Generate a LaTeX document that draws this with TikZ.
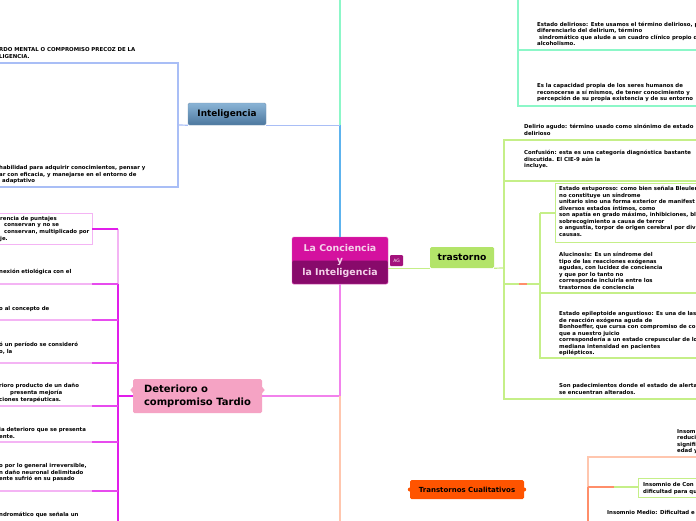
\documentclass[tikz,border=0pt]{standalone}
\usepackage{fontspec}
\setmainfont{DejaVu Sans}
\usetikzlibrary{positioning,calc}

\definecolor{cTopo}{HTML}{D4119F}
\definecolor{cBaixo}{HTML}{880A6B}
\definecolor{cLetra}{HTML}{F4D2EA}
\definecolor{cAG}{HTML}{A3127C}
\definecolor{azulTopo}{HTML}{8AB4D6}
\definecolor{azulBaixo}{HTML}{4C779E}
\definecolor{rosaNo}{HTML}{F5A3C4}
\definecolor{verdeNo}{HTML}{B3E46A}
\definecolor{laranjaNo}{HTML}{FF5400}
\definecolor{lAzulClaro}{HTML}{A9BEF6}
\definecolor{lAzul}{HTML}{5DB3EE}
\definecolor{lMenta}{HTML}{8CF7C8}
\definecolor{lRosa}{HTML}{F282EC}
\definecolor{lMag}{HTML}{E11EEA}
\definecolor{lRosaClaro}{HTML}{F4B4F4}
\definecolor{lVerde}{HTML}{C5EF88}
\definecolor{lPessego}{HTML}{FFC6AE}
\definecolor{lLaranja}{HTML}{FF8E6A}

\begin{document}
\begin{tikzpicture}[
x=1pt, y=-1pt,
texto/.style={font=\fontsize{5.4}{6.5}\selectfont\bfseries, align=left, anchor=north west, inner sep=0pt},
centro/.style={rectangle, rounded corners=1.5pt, fill=cTopo, draw=cTopo!70!white, text=cLetra,
  minimum width=96pt, minimum height=47pt, align=center, inner sep=0pt,
  font=\fontsize{9.4}{12}\selectfont\bfseries,
  path picture={\fill[cBaixo] (path picture bounding box.west) rectangle (path picture bounding box.south east);}},
selo/.style={rectangle, rounded corners=1pt, fill=cAG, text=white, minimum width=13pt, minimum height=11pt,
  inner sep=0pt, font=\fontsize{4.5}{5}\selectfont},
ramo/.style={rectangle, rounded corners=1.5pt, inner sep=0pt, font=\bfseries},
linha/.style={line width=1.2pt},
caixa/.style={draw, line width=1pt}
]
\useasboundingbox (0,0) rectangle (696,520);
\fill[white] (0,0) rectangle (696,520);
\clip (0,0) rectangle (696,520);

% nos principais
\node[centro] (centro) at (340,260.5) {La Conciencia\\y\\la Inteligencia};
\node[selo] (ag) at (396.5,260.5) {AG};
\node[ramo, top color=azulTopo, bottom color=azulBaixo, draw=azulBaixo!80!white, minimum width=78pt, minimum height=22pt,
  font=\fontsize{8.9}{10}\selectfont\bfseries] (intel) at (227,114) {Inteligencia};
\node[ramo, fill=rosaNo, minimum width=129pt, minimum height=34pt, align=left,
  font=\fontsize{10}{12.5}\selectfont\bfseries] (det) at (197.5,396) {Deterioro o\\compromiso Tardio};
\node[ramo, fill=verdeNo, minimum width=64pt, minimum height=21pt,
  font=\fontsize{9.2}{10}\selectfont\bfseries] (trast) at (462,257.5) {trastorno};
\node[ramo, fill=laranjaNo, minimum width=114pt, minimum height=19pt,
  font=\fontsize{7}{8}\selectfont\bfseries] (cualit) at (467,489.5) {Transtornos Cualitativos};
\fill[rosaNo] ([yshift=3pt]det.west) -- ++(-2.5,-3) -- ++(2.5,-3) -- cycle;
\fill[rosaNo] ([yshift=3pt]det.east) -- ++(2.5,-3) -- ++(-2.5,-3) -- cycle;
\fill[laranjaNo] (cualit.west) circle (2pt);
\fill[laranjaNo] (cualit.east) circle (2pt);

\coordinate (topo) at (340,-5);
\coordinate (base) at (340,525);
\coordinate (iJ) at (178,125);
\coordinate (dJ) at (118,396);
\coordinate (tJ) at (504,268);
\coordinate (eJ) at (540,284);
\coordinate (mJ) at (518,-5);
\coordinate (oJ) at (588,487);

% rama Inteligencia
\draw[linha, lAzul] (centro.north) -- (centro.north |- intel.south);
\draw[linha, lAzulClaro] (centro.north |- intel.south) -- (intel.south east);
\draw[linha, lMenta] (centro.north |- intel.south) -- (topo);
\draw[linha, lAzulClaro] (intel.south west) -- (iJ);
\draw[linha, lAzulClaro] (-5,63) -| (178,187) -- (-5,187);
\node[texto] (i1) at (-1,47.3) {RDO MENTAL O COMPROMISO PRECOZ DE LA\\LIGENCIA.};
\node[texto] (i2) at (-1,165.3) {habilidad para adquirir conocimientos, pensar y\\ar con eficacia, y manejarse en el entorno de};
\node[texto] (i3) at (-3.5,178.3) {e adaptativo};

% rama menta
\draw[linha, lMenta] (mJ) -- (518,106) -- (700,106);
\draw[linha, lMenta] (518,50) -- (700,50);
\node[texto] (m1) at (537,21.5) {Estado delirioso: Este usamos el término delirioso, p\\diferenciarlo del delirium, término\\\ sindromático que alude a un cuadro clínico propio d\\alcoholismo.};
\node[texto] (m2) at (537,83.5) {Es la capacidad propia de los seres humanos de\\reconocerse a sí mismos, de tener conocimiento y\\percepción de su propia existencia y de su entorno};

% rama Deterioro
\draw[linha, lRosa] (centro.south) |- (det.east);
\draw[linha, lPessego] (centro.south |- det.east) -- (base);
\draw[linha, lMag] (det.west) -- (dJ);
\draw[linha, lRosaClaro] (118,229) -- (118,284);
\draw[linha, lMag] (118,284) -- (118,525);
\draw[caixa, lRosaClaro] (-5,213) rectangle (92,244);
\draw[linha, lMag] (92,229) -- (118,229);
\foreach \yy in {284,320,363,406,442,491}{
  \draw[linha, lRosaClaro] (-5,\yy) -- (92,\yy);
  \draw[linha, lMag!80!white] (92,\yy) -- (118,\yy);
}
\node[texto] (d1a) at (0,216.3) {rencia de puntajes};
\node[texto] (d1b) at (4,223.3) {conservan y no se\\conservan, multiplicado por};
\node[texto] (d1c) at (0,236.3) {je.};
\node[texto] (d2) at (-1,269.3) {nexión etiológica con el};
\node[texto] (d3) at (-1,306.3) {o al concepto de};
\node[texto] (d4) at (-1,342.3) {ó un período se consideró\\o, la};
\node[texto] (d5a) at (-1,383.3) {rioro producto de un daño};
\node[texto] (d5b) at (10,390.3) {presenta mejoría};
\node[texto] (d5c) at (-1,397.3) {ciones terapéuticas.};
\node[texto] (d6) at (-1,427.3) {ia deterioro que se presenta\\ente.};
\node[texto] (d7) at (-1,463.3) {o por lo general irreversible,\\n daño neuronal delimitado\\ente sufrió en su pasado};
\node[texto] (d8) at (-1,512.3) {ndromático que señala un};

% rama trastorno
\draw[linha, lVerde] (centro.east |- trast.south) -- (trast.south west);
\draw[linha, lVerde] (trast.south east) -- (tJ);
\draw[linha, lVerde] (700,140) -| (504,399) -- (700,399);
\draw[linha, lVerde] (504,181) -- (700,181);
\draw[linha, lVerde] (504,284) -- (eJ);
\draw[linha, lLaranja] (519,284) -- (527,284);
\draw[linha, lVerde] (540,213) -- (540,358) -- (700,358);
\draw[linha, lVerde] (540,293) -- (700,293);
\draw[linha, lVerde] (540,213) -- (555,213);
\draw[caixa, lVerde] (555,183) rectangle (705,242);
\node[texto] (t1) at (524,124.3) {Delirio agudo: término usado como sinónimo de estado\\delirioso};
\node[texto] (t2) at (524,150.3) {Confusión: esta es una categoría diagnóstica bastante\\discutida. El CIE-9 aún la\\incluye.};
\node[texto] (t3) at (559,186.5) {Estado estuporoso: como bien señala Bleuler\\no constituye un síndrome\\unitario sino una forma exterior de manifest\\diversos estados íntimos, como\\son apatía en grado máximo, inhibiciones, bl\\sobrecogimiento a causa de terror\\o angustia, torpor de origen cerebral por div\\causas.};
\node[texto] (t4) at (559,252.3) {Alucinosis: Es un síndrome del\\tipo de las reacciones exógenas\\agudas, con lucidez de conciencia\\y que por lo tanto no\\corresponde incluirla entre los\\trastornos de conciencia};
\node[texto] (t5) at (559,311.3) {Estado epileptoide angustioso: Es una de las\\de reacción exógena aguda de\\Bonhoeffer, que cursa con compromiso de co\\que a nuestro juicio\\correspondería a un estado crepuscular de lo\\mediana intensidad en pacientes\\epilépticos.};
\node[texto] (t6) at (559,383.3) {Son padecimientos donde el estado de alerta\\se encuentran alterados.};

% rama Transtornos Cualitativos
\draw[linha, lPessego] (700,457) -| (oJ);
\draw[linha, lLaranja] (oJ) -- (588,525);
\draw[linha, lLaranja] (oJ) -- (614,487);
\draw[linha, lVerde] (614,487) -- (638,487);
\draw[caixa, lVerde] (638,478) rectangle (705,497);
\node[texto] (o1) at (677,429.3) {Insom\\reduci\\signifi\\edad y};
\node[texto] (o2) at (643,482.3) {Insomnio de Con\\dificultad para qu};
\node[texto] (o3) at (607,510.3) {Insomnio Medio: Dificultad e};
\end{tikzpicture}
\end{document}
